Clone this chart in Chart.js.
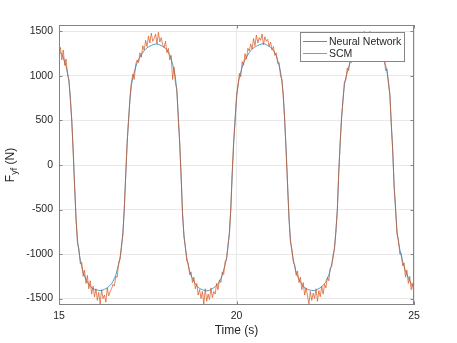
<!DOCTYPE html>
<html>
<head>
<meta charset="utf-8">
<script src="https://cdn.jsdelivr.net/npm/chart.js@4.4.0/dist/chart.umd.min.js"></script>
<style>
  html, body { margin: 0; padding: 0; background: #fff; }
  canvas { display: block; }
</style>
</head>
<body>
<canvas id="forceChart" width="457" height="343"></canvas>
<script>
// both traces are sampled every 0.04 s starting at 15 s
const tStart = 15;
const tStep = 0.04;

// lateral force (N), one row per second
const neuralNetwork = [
    1288, 1266, 1238, 1210, 1158, 1106, 1040, 936, 760, 488, 168, -224, -616, -840, -968, -1066, -1142, -1202, -1250, -1282, -1314, -1340, -1360, -1380, -1388,
    -1396, -1402, -1405, -1408, -1410, -1410, -1404, -1396, -1388, -1378, -1366, -1350, -1334, -1306, -1274, -1237, -1175, -1120, -1040, -928, -756, -500, -100, 240, 520,
    740, 900, 980, 1042, 1098, 1148, 1180, 1212, 1238, 1262, 1284, 1300, 1316, 1326, 1334, 1342, 1350, 1354, 1358, 1358, 1356, 1348, 1340, 1332, 1321,
    1309, 1293, 1265, 1237, 1188, 1132, 1068, 980, 820, 552, 240, -112, -560, -784, -936, -1044, -1126, -1190, -1244, -1274, -1306, -1335, -1355, -1375, -1386,
    -1394, -1402, -1406, -1410, -1412, -1412, -1408, -1398, -1388, -1378, -1366, -1350, -1334, -1306, -1274, -1237, -1175, -1120, -1040, -928, -756, -500, -100, 240, 520,
    740, 900, 980, 1042, 1098, 1148, 1180, 1212, 1238, 1262, 1284, 1300, 1316, 1326, 1334, 1342, 1350, 1356, 1360, 1362, 1358, 1350, 1342, 1332, 1320,
    1306, 1286, 1258, 1230, 1174, 1118, 1046, 940, 780, 476, 160, -224, -616, -840, -968, -1066, -1142, -1202, -1250, -1282, -1314, -1340, -1360, -1380, -1388,
    -1396, -1402, -1406, -1408, -1410, -1410, -1404, -1396, -1388, -1378, -1366, -1350, -1334, -1306, -1274, -1237, -1175, -1120, -1040, -928, -756, -500, -100, 240, 520,
    740, 900, 980, 1042, 1098, 1148, 1180, 1212, 1238, 1262, 1284, 1300, 1316, 1326, 1334, 1342, 1350, 1356, 1360, 1360, 1356, 1348, 1340, 1330, 1318,
    1306, 1286, 1258, 1230, 1174, 1118, 1046, 940, 780, 476, 160, -224, -500, -740, -860, -950, -1020, -1080, -1140, -1190, -1230, -1265, -1300, -1330, -1360,
    -1385
];

const scm = [
    1250, 1320, 1180, 1290, 1120, 1190, 1010, 960, 720, 510, 130, -250, -590, -880, -940, -1110, -1090, -1250, -1180, -1330, -1240, -1390, -1300, -1450, -1360,
    -1480, -1390, -1520, -1430, -1560, -1400, -1500, -1460, -1540, -1380, -1470, -1420, -1390, -1340, -1360, -1250, -1260, -1090, -1060, -900, -790, -470, -120, 260, 500,
    760, 930, 1020, 960, 1130, 1180, 1150, 1260, 1210, 1340, 1290, 1400, 1330, 1450, 1370, 1480, 1390, 1420, 1470, 1360, 1490, 1380, 1430, 1350, 1320,
    1390, 1260, 1310, 1180, 1230, 960, 1100, 920, 850, 520, 260, -140, -530, -810, -910, -1080, -1100, -1230, -1200, -1320, -1260, -1390, -1330, -1460, -1400,
    -1500, -1420, -1560, -1390, -1530, -1450, -1510, -1380, -1490, -1420, -1450, -1330, -1400, -1290, -1320, -1200, -1230, -1080, -1070, -890, -780, -480, -70, 270, 480,
    780, 870, 1030, 990, 1160, 1120, 1250, 1190, 1310, 1280, 1360, 1300, 1420, 1340, 1460, 1370, 1430, 1400, 1470, 1350, 1440, 1390, 1410, 1330, 1380,
    1290, 1330, 1230, 1260, 1140, 1150, 1000, 960, 740, 500, 130, -250, -590, -870, -940, -1090, -1120, -1240, -1190, -1320, -1260, -1400, -1320, -1460, -1380,
    -1470, -1560, -1420, -1520, -1440, -1500, -1390, -1530, -1410, -1480, -1360, -1450, -1340, -1380, -1260, -1300, -1160, -1140, -1010, -950, -730, -520, -80, 260, 540,
    720, 940, 950, 1090, 1060, 1200, 1150, 1270, 1220, 1350, 1290, 1420, 1330, 1480, 1370, 1500, 1400, 1470, 1380, 1500, 1410, 1450, 1360, 1420, 1300,
    1340, 1250, 1290, 1180, 1200, 1060, 1080, 910, 800, 450, 180, -250, -470, -780, -830, -1000, -990, -1130, -1100, -1260, -1180, -1330, -1250, -1400, -1330,
    -1460
];

const xTicks = [15, 20, 25];
const yTicks = [-1500, -1000, -500, 0, 500, 1000, 1500];
const seriesNames = ['Neural Network', 'SCM'];
const seriesColors = ['#0072BD', '#D95319'];

const FONT = "'Liberation Sans', Arial, Helvetica, sans-serif";
const TEXT_COLOR = '#262626';
const AXIS_COLOR = '#858585';

function toPoints(values) {
    return values.map(function(v, i) {
        return { x: tStart + i * tStep, y: v };
    });
}

// MATLAB-like box, inward ticks, y label with subscript and legend
const matlabAxes = {
    id: 'matlabAxes',
    afterDraw: function(chart) {
        const ctx = chart.ctx;
        const area = chart.chartArea;
        const xs = chart.scales.x;
        const ys = chart.scales.y;
        const tick = 3.5;

        ctx.save();
        ctx.strokeStyle = AXIS_COLOR;
        ctx.lineWidth = 1;
        ctx.strokeRect(area.left + 0.5, area.top + 0.5, area.right - area.left - 1, area.bottom - area.top - 1);

        ctx.beginPath();
        xTicks.forEach(function(v) {
            const px = Math.round(xs.getPixelForValue(v)) + 0.5;
            ctx.moveTo(px, area.bottom);
            ctx.lineTo(px, area.bottom - tick);
            ctx.moveTo(px, area.top);
            ctx.lineTo(px, area.top + tick);
        });
        yTicks.forEach(function(v) {
            const py = Math.round(ys.getPixelForValue(v)) + 0.5;
            ctx.moveTo(area.left, py);
            ctx.lineTo(area.left + tick, py);
            ctx.moveTo(area.right, py);
            ctx.lineTo(area.right - tick, py);
        });
        ctx.stroke();

        // y axis label: F_yf (N)
        ctx.translate(14, (area.top + area.bottom) / 2);
        ctx.rotate(-Math.PI / 2);
        ctx.fillStyle = TEXT_COLOR;
        ctx.textBaseline = 'alphabetic';
        ctx.textAlign = 'left';
        ctx.font = '12px ' + FONT;
        const wF = ctx.measureText('F').width;
        const wRest = ctx.measureText(' (N)').width;
        ctx.font = '9px ' + FONT;
        const wSub = ctx.measureText('yf').width;
        let x0 = -(wF + wSub + wRest) / 2;
        ctx.font = '12px ' + FONT;
        ctx.fillText('F', x0, 0);
        ctx.font = '9px ' + FONT;
        ctx.fillText('yf', x0 + wF, 3);
        ctx.font = '12px ' + FONT;
        ctx.fillText(' (N)', x0 + wF + wSub, 0);
        ctx.restore();

        // legend (north-east)
        const lx = 300, ly = 32, lw = 105, lh = 30;
        ctx.save();
        ctx.fillStyle = '#ffffff';
        ctx.fillRect(lx, ly, lw, lh);
        ctx.strokeStyle = AXIS_COLOR;
        ctx.lineWidth = 1;
        ctx.strokeRect(lx + 0.5, ly + 0.5, lw - 1, lh - 1);
        ctx.font = '10.5px ' + FONT;
        ctx.textBaseline = 'middle';
        ctx.textAlign = 'left';
        seriesNames.forEach(function(name, i) {
            const rowY = ly + 9.5 + i * 12;
            ctx.strokeStyle = seriesColors[i];
            ctx.globalAlpha = 0.75;
            ctx.beginPath();
            ctx.moveTo(lx + 3, rowY);
            ctx.lineTo(lx + 27, rowY);
            ctx.stroke();
            ctx.globalAlpha = 1;
            ctx.fillStyle = TEXT_COLOR;
            ctx.fillText(name, lx + 29, rowY + 0.5);
        });
        ctx.restore();
    }
};

new Chart('forceChart', {
    type: 'line',
    data: {
        datasets: [{
            label: seriesNames[0],
            data: toPoints(neuralNetwork),
            borderColor: seriesColors[0],
            borderWidth: 0.7,
            pointRadius: 0,
            fill: false,
            tension: 0,
            order: 1
        }, {
            label: seriesNames[1],
            data: toPoints(scm),
            borderColor: seriesColors[1],
            borderWidth: 0.7,
            pointRadius: 0,
            fill: false,
            tension: 0,
            order: 0
        }]
    },
    options: {
        responsive: false,
        animation: false,
        layout: {
            padding: { top: 25, right: 43, bottom: 0, left: 0 }
        },
        plugins: {
            legend: { display: false },
            tooltip: { enabled: false }
        },
        scales: {
            x: {
                type: 'linear',
                min: 15,
                max: 25,
                afterBuildTicks: function(scale) {
                    scale.ticks = xTicks.map(function(v) { return { value: v }; });
                },
                afterFit: function(scale) {
                    scale.height = 38;
                },
                grid: { color: '#e8e8e8', drawTicks: false },
                border: { display: false },
                ticks: {
                    padding: 5,
                    maxRotation: 0,
                    color: TEXT_COLOR,
                    font: { family: FONT, size: 10.5 },
                    callback: function(v) { return String(v); }
                },
                title: {
                    display: true,
                    text: 'Time (s)',
                    color: TEXT_COLOR,
                    font: { family: FONT, size: 12 },
                    padding: { top: 0, bottom: 5 }
                }
            },
            y: {
                type: 'linear',
                min: -1572,
                max: 1572,
                afterBuildTicks: function(scale) {
                    scale.ticks = yTicks.map(function(v) { return { value: v }; });
                },
                afterFit: function(scale) {
                    scale.width = 59;
                },
                grid: { color: '#e8e8e8', drawTicks: false },
                border: { display: false },
                ticks: {
                    padding: 6,
                    color: TEXT_COLOR,
                    font: { family: FONT, size: 10.5 },
                    callback: function(v) { return String(v); }
                }
            }
        }
    },
    plugins: [matlabAxes]
});
</script>
</body>
</html>
